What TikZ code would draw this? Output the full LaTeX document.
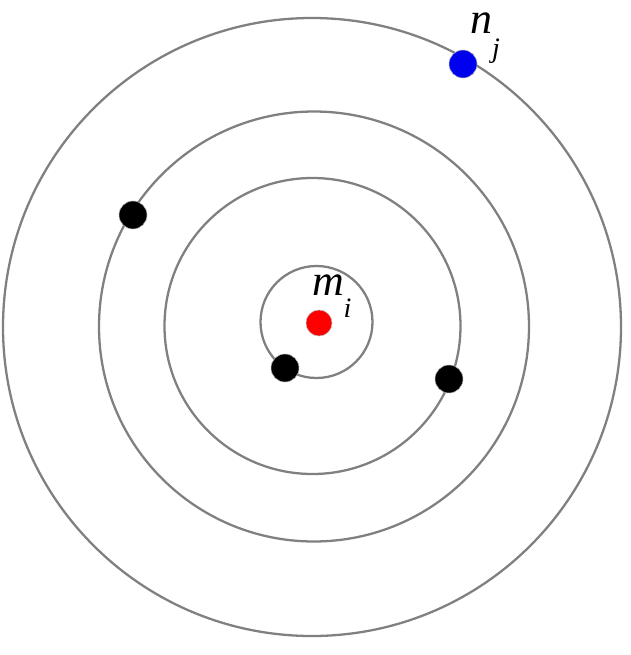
\documentclass[tikz,border=0pt]{standalone}
\usepackage{fontspec}
\setmainfont{Liberation Serif}
\usepackage{xcolor}
\definecolor{orbitGray}{HTML}{808080}
\definecolor{dotRed}{HTML}{FF0000}
\definecolor{dotBlue}{HTML}{0000F0}
\tikzset{
  orbit/.style={draw=orbitGray,line width=1.3pt},
  body/.style={circle,inner sep=0pt,minimum size=#1,draw=orbitGray!60,line width=.3pt},
  bigletter/.style={font=\fontsize{25}{26}\selectfont\itshape,inner sep=0pt},
  subletter/.style={font=\fontsize{16}{18}\selectfont\itshape,inner sep=0pt}
}
\begin{document}
\begin{tikzpicture}
\useasboundingbox (0,0) rectangle (12.62,-13.1);
% orbits
\foreach \cx/\cy/\r in {6.24/-6.54/6.18,6.28/-6.53/4.3,6.25/-6.52/2.96,6.33/-6.44/1.12}{
  \draw[orbit] (\cx,\cy) circle (\r);
}
% bodies
\node[body=.52cm,fill=dotRed] (mi) at (6.38,-6.46) {};
\node[body=.56cm,fill=black] (b1) at (2.66,-4.30) {};
\node[body=.56cm,fill=black] (b2) at (5.70,-7.36) {};
\node[body=.56cm,fill=black] (b3) at (8.98,-7.58) {};
\node[body=.56cm,fill=dotBlue] (nj) at (9.26,-1.28) {};
% labels
\node[bigletter] (mtext) at (6.56,-5.70) {m};
\node[subletter] (itext) at (6.95,-6.16) {i};
\node[bigletter] (ntext) at (9.62,-0.46) {n};
\node[subletter] (jtext) at (9.92,-1.02) {j};
\end{tikzpicture}
\end{document}
